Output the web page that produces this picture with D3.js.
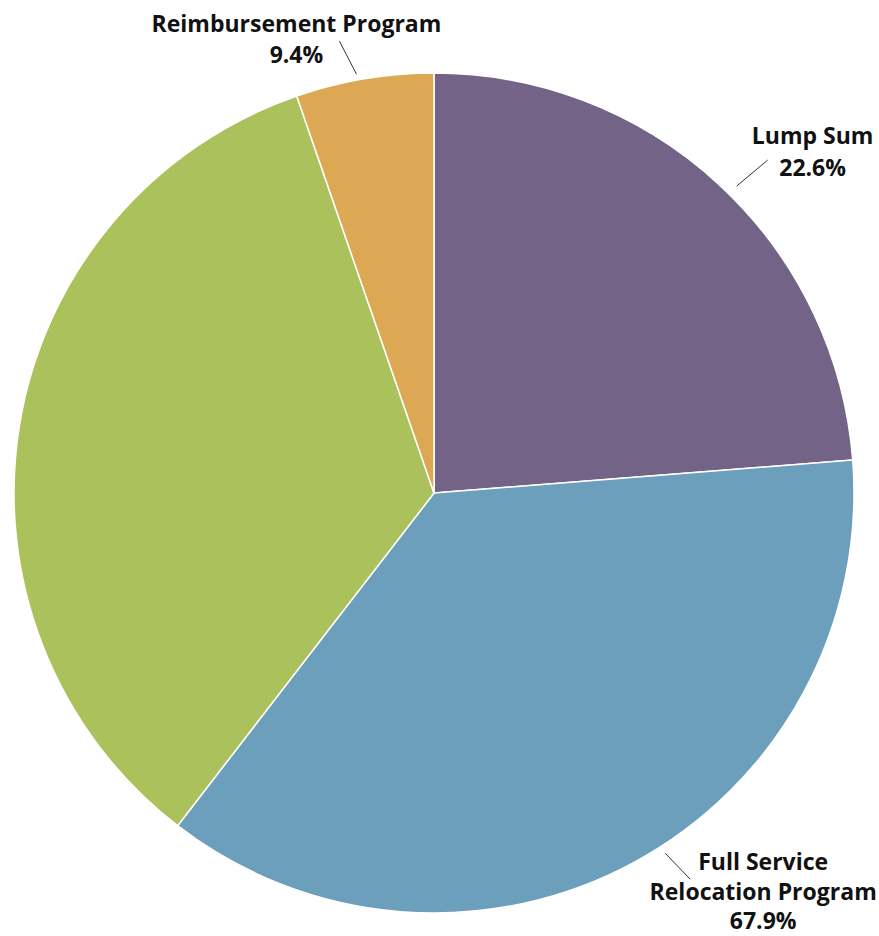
<!DOCTYPE html>
<html>
<head>
<meta charset="utf-8">
<script src="https://cdn.jsdelivr.net/npm/d3@7"></script>
<style>
  html, body { margin: 0; padding: 0; background: #ffffff; }
  svg { display: block; }
  .lbl { font-family: "Open Sans", Lato, sans-serif; font-weight: 700; font-size: 23px; fill: #111; }
</style>
</head>
<body>
<svg id="chart" width="879" height="936"></svg>
<script>
// Relocation program mix
const categories = ["Lump Sum", "Full Service Relocation Program", "Other", "Reimbursement Program"];
const shares     = [23.75, 36.7, 34.25, 5.3];
const colors     = ["#736387", "#6c9fbb", "#abc15b", "#dda853"];

// Callout text for the labelled slices (name lines, percent line)
const labelNames   = [["Lump Sum"], ["Full Service", "Relocation Program"], null, ["Reimbursement Program"]];
const labelPercent = ["22.6%", "67.9%", null, "9.4%"];

const width = 879, height = 936;
const cx = 434, cy = 493, radius = 420;

// Callout geometry per slice: anchor angle nudge (deg) and radius on the rim,
// leader vector (lx, ly), and text offset (tx, ty) from the leader's end
const callout = [
  { nudge: 1.85,  r0: 431, lx: 31,  ly: -26, tx: 45,  ty: -16, gap: 31.5 },
  { nudge: -4.25, r0: 428, lx: 25,  ly: 26,  tx: 73,  ty: -9,  gap: 29.5 },
  null,
  { nudge: -0.95, r0: 426, lx: -17, ly: -33, tx: -43, ty: -9.5, gap: 31 }
];

const svg = d3.select("#chart");
const g = svg.append("g").attr("transform", `translate(${cx},${cy})`);

const pie = d3.pie().sort(null).value(d => d.value);
const arcs = pie(categories.map((c, i) => ({ name: c, value: shares[i], i })));
const arc = d3.arc().innerRadius(0).outerRadius(radius);

g.selectAll("path.slice")
  .data(arcs)
  .join("path")
  .attr("class", "slice")
  .attr("d", arc)
  .attr("fill", d => colors[d.data.i])
  .attr("stroke", "#ffffff")
  .attr("stroke-width", 1.5)
  .attr("stroke-linejoin", "round");

const polar = (angle, r) => [r * Math.sin(angle), -r * Math.cos(angle)];

arcs.forEach(d => {
  const i = d.data.i;
  const c = callout[i];
  if (!c || !labelNames[i]) return;
  const mid = (d.startAngle + d.endAngle) / 2 + c.nudge * Math.PI / 180;
  const p0 = polar(mid, c.r0);
  const p1 = [p0[0] + c.lx, p0[1] + c.ly];
  g.append("line")
    .attr("x1", p0[0]).attr("y1", p0[1])
    .attr("x2", p1[0]).attr("y2", p1[1])
    .attr("stroke", "#333").attr("stroke-width", 1);
  const lines = labelNames[i].concat([labelPercent[i]]);
  const t = g.append("text")
    .attr("class", "lbl")
    .attr("text-anchor", "middle")
    .attr("x", p1[0] + c.tx)
    .attr("y", p1[1] + c.ty);
  lines.forEach((s, k) => {
    t.append("tspan")
      .attr("x", p1[0] + c.tx)
      .attr("dy", k === 0 ? 0 : c.gap)
      .text(s);
  });
});
</script>
</body>
</html>
